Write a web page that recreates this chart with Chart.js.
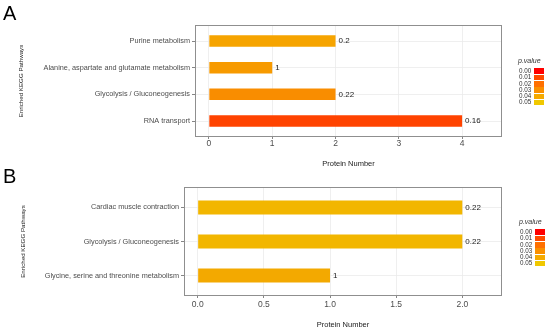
<!DOCTYPE html>
<html><head><meta charset="utf-8">
<script src="https://cdn.jsdelivr.net/npm/chart.js@4"></script>
<style>
html,body{margin:0;padding:0;background:#fff;width:550px;height:331px;overflow:hidden;font-family:"Liberation Sans",Arial,sans-serif}
canvas{position:absolute;left:0}
#cA{top:0}
#cB{top:165px}
.tag{position:absolute;left:3px;font-size:20px;color:#000;line-height:20px}
.leg{position:absolute;font-size:6.3px;color:#333}
.leg .ttl{font-style:italic;font-size:7px;margin-bottom:3px;margin-left:-1px;line-height:8px}
.leg .row{display:flex;align-items:center;height:6.3px;line-height:6.3px}
.leg .row span{width:15px}
.leg .row i{display:block;width:10px;height:5.6px}
</style></head>
<body>
<canvas id="cA" width="550" height="170"></canvas>
<canvas id="cB" width="550" height="166"></canvas>
<div class="tag" style="top:3px">A</div>
<div class="tag" style="top:166px">B</div>
<div class="leg" id="legA" style="left:519px;top:57px"></div>
<div class="leg" id="legB" style="left:520px;top:218px"></div>
<script>
// ---- data (listed top to bottom as in the picture) ----
const pathwaysA = ['Purine metabolism','Alanine, aspartate and glutamate metabolism','Glycolysis / Gluconeogenesis','RNA transport'];
const countsA = [2, 1, 2, 4];
const labelsA = ['0.2', '1', '0.22', '0.16'];
const pathwaysB = ['Cardiac muscle contraction','Glycolysis / Gluconeogenesis','Glycine, serine and threonine metabolism'];
const countsB = [2, 2, 1];
const labelsB = ['0.22', '0.22', '1'];
const legendTicks = ['0.00','0.01','0.02','0.03','0.04','0.05'];

// ---- styles ----
const colorsA = ['#F6A400','#F79A00','#F98D00','#FF4300'];
const colorsB = ['#F2B600','#F2B600','#F3A900'];
const legendColors = ['#FF0000','#FF4A00','#FF7000','#FA9000','#F5AA00','#F0C800'];

function buildLegend(id){
  const el = document.getElementById(id);
  let h = '<div class="ttl">p.value</div>';
  legendTicks.forEach((t,i)=>{ h += '<div class="row"><span>'+t+'</span><i style="background:'+legendColors[i]+'"></i></div>'; });
  el.innerHTML = h;
}
buildLegend('legA'); buildLegend('legB');

const panelPlugin = {
  id: 'panel',
  beforeDatasetsDraw(chart){
    const {ctx, chartArea:a} = chart;
    ctx.save();
    ctx.strokeStyle = '#8f8f8f'; ctx.lineWidth = 1;
    ctx.strokeRect(Math.round(a.left)+0.5, Math.round(a.top)+0.5, Math.round(a.width)-1, Math.round(a.height)-1);
    ctx.restore();
  },
  afterDatasetsDraw(chart){
    const {ctx} = chart;
    const ds = chart.data.datasets[0];
    const meta = chart.getDatasetMeta(0);
    ctx.save();
    ctx.font = '8px "Liberation Sans", Arial, sans-serif';
    ctx.fillStyle = '#1a1a1a'; ctx.textBaseline = 'middle'; ctx.textAlign = 'left';
    meta.data.forEach((bar,i)=>{ ctx.fillText(ds.pLabels[i], bar.x + 3, bar.y); });
    ctx.restore();
  }
};

function makeChart(canvasId, names, counts, texts, colors, o){
  const n = names.length;
  return new Chart(document.getElementById(canvasId), {
    type: 'bar',
    data: {
      datasets: [{
        data: counts.map((v,i)=>({x:v, y:n-1-i})),
        pLabels: texts,
        backgroundColor: colors,
        borderWidth: 0,
        categoryPercentage: 1,
        barPercentage: o.barPct
      }]
    },
    options: {
      indexAxis: 'y',
      responsive: false,
      animation: false,
      layout: {padding: {top: o.top, right: 48, left: 0, bottom: 0}},
      plugins: {legend: {display:false}, tooltip: {enabled:false}},
      scales: {
        x: {
          type: 'linear', position: 'bottom',
          min: o.xmin, max: o.xmax,
          afterFit(s){ s.height = o.xh; },
          border: {display:false},
          grid: {color:'#EBEBEB', lineWidth:0.8, tickColor:'#666', tickLength:2},
          ticks: {stepSize:o.step, includeBounds:false, padding:o.xtp, color:'#4d4d4d',
                  font:{size:8.5, family:'"Liberation Sans", Arial, sans-serif'},
                  callback: v => o.step < 1 ? Number(v).toFixed(1) : String(v)},
          title: {display:true, text:'Protein Number', color:'#1a1a1a',
                  font:{size:7.5, family:'"Liberation Sans", Arial, sans-serif'},
                  padding:{top:0, bottom:o.tpb}}
        },
        y: {
          type: 'linear', position: 'left', offset: false,
          min: -0.6, max: n - 0.4,
          afterFit(s){ s.width = o.yw; },
          border: {display:false},
          grid: {color:'#EBEBEB', lineWidth:0.8, tickColor:'#666', tickLength:3, offset:false},
          ticks: {stepSize:1, includeBounds:false, padding:2, color:'#4d4d4d',
                  font:{size:7.3, family:'"Liberation Sans", Arial, sans-serif'},
                  callback: v => Number.isInteger(v) && v>=0 && v<n ? names[n-1-v] : ''},
          title: {display:true, text:'Enriched KEGG Pathways', color:'#1a1a1a',
                  font:{size:6.2, family:'"Liberation Sans", Arial, sans-serif'},
                  padding:{top:o.ytp, bottom:0}}
        }
      }
    },
    plugins: [panelPlugin]
  });
}

makeChart('cA', pathwaysA, countsA, labelsA, colorsA,
  {top:25, xh:33, yw:195, xmin:-0.22, xmax:4.63, step:1, barPct:0.43, tpb:2, ytp:18, xtp:0});
makeChart('cB', pathwaysB, countsB, labelsB, colorsB,
  {top:22, xh:35, yw:184, xmin:-0.104, xmax:2.30, step:0.5, barPct:0.41, tpb:2, ytp:20, xtp:1.5});
</script>
</body></html>
